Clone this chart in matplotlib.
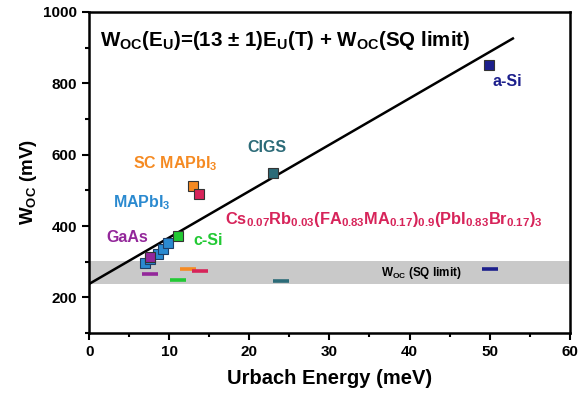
import numpy as np
import matplotlib
matplotlib.use("Agg")
import matplotlib.pyplot as plt
from matplotlib.ticker import MultipleLocator

plt.rcParams['font.family'] = ['Liberation Sans', 'DejaVu Sans']
plt.rcParams['font.weight'] = 'bold'
plt.rcParams['mathtext.fontset'] = 'custom'
plt.rcParams['mathtext.rm'] = 'Liberation Sans:bold'
plt.rcParams['mathtext.it'] = 'Liberation Sans:bold'
plt.rcParams['mathtext.bf'] = 'Liberation Sans:bold'

# -------------------------------
# Data: Urbach energy (meV) vs W_oc (mV)
# -------------------------------
mapbi3_eu = [7.0, 7.6, 8.6, 9.2, 9.9]
mapbi3_woc = [296, 309, 323, 336, 353]

materials = ["GaAs", "c-Si", "SC MAPbI3", "CsRb", "CIGS", "a-Si"]
mat_eu = [7.6, 11.1, 13.0, 13.7, 22.9, 49.9]
mat_woc = [313, 373, 511, 491, 550, 852]
mat_colors = ["#93279a", "#22c934", "#f58a22", "#d7245a", "#2c6b78", "#1c1f8c"]

# SQ-limit W_oc for each material
sq_eu = [7.6, 11.1, 12.4, 13.9, 24.0, 50.0]
sq_woc = [265, 249, 279, 275, 247, 281]

# Fitted relation W_oc = slope * E_U + intercept
slope = 13.0
intercept = 238.0
fit_eu = np.array([0.0, 52.9])

sq_band = (238, 301)

# -------------------------------
# Plot
# -------------------------------
fig = plt.figure(figsize=(5.79, 3.99), dpi=100)
ax = fig.add_axes([0.154, 0.165, 0.830, 0.805])

ax.axhspan(sq_band[0], sq_band[1], color="#c9c9c9", zorder=0, lw=0)

ax.plot(fit_eu, slope * fit_eu + intercept, color="black", lw=1.8, zorder=2)

ax.plot(mapbi3_eu, mapbi3_woc, ls="none", marker="s", ms=7.5,
        mfc="#2b8ad0", mec="#1f3f66", mew=0.8, zorder=3)
for x, y, c in zip(mat_eu, mat_woc, mat_colors):
    ax.plot(x, y, ls="none", marker="s", ms=7.5, mfc=c, mec="#333333",
            mew=0.8, zorder=4)

# SQ-limit dashes
for x, y, c in zip(sq_eu, sq_woc, mat_colors):
    ax.plot(x, y, ls="none", marker="_", ms=12, mew=2.6, color=c, zorder=3)

# Labels
ax.text(1.4, 921, r"W$_{\rm OC}$(E$_{\rm U}$)=(13 ± 1)E$_{\rm U}$(T) + W$_{\rm OC}$(SQ limit)",
        fontsize=14.8, fontweight="bold", va="center", ha="left")
ax.text(52.2, 804, "a-Si", color="#1c1f8c", fontsize=11.5, ha="center", va="center")
ax.text(22.2, 621, "CIGS", color="#2c6b78", fontsize=11.5, ha="center", va="center")
ax.text(10.8, 574, r"SC MAPbI$_3$", color="#f58a22", fontsize=11.5, ha="center", va="center")
ax.text(6.6, 465, r"MAPbI$_3$", color="#2b8ad0", fontsize=11.5, ha="center", va="center")
ax.text(4.7, 369, "GaAs", color="#93279a", fontsize=11.5, ha="center", va="center")
ax.text(14.8, 360, "c-Si", color="#22c934", fontsize=11.5, ha="center", va="center")
ax.text(17.0, 418,
        r"Cs$_{0.07}$Rb$_{0.03}$(FA$_{0.83}$MA$_{0.17}$)$_{0.9}$(PbI$_{0.83}$Br$_{0.17}$)$_3$",
        color="#d7245a", fontsize=11.8, ha="left", va="center")
ax.text(41.5, 268, r"W$_{\rm OC}$ (SQ limit)", fontsize=8.5, ha="center", va="center")

ax.set_xlim(0, 60)
ax.set_ylim(100, 1000)
ax.xaxis.set_major_locator(MultipleLocator(10))
ax.xaxis.set_minor_locator(MultipleLocator(5))
ax.yaxis.set_major_locator(MultipleLocator(200))
ax.yaxis.set_minor_locator(MultipleLocator(100))
ax.tick_params(which="both", direction="out", width=1.5, labelsize=11)
ax.tick_params(which="major", length=5)
ax.tick_params(which="minor", length=3)
for s in ax.spines.values():
    s.set_linewidth(1.8)

ax.set_xlabel("Urbach Energy (meV)", fontsize=14.5, fontweight="bold", labelpad=7)
ax.set_ylabel(r"W$_{\rm OC}$ (mV)", fontsize=13.5, fontweight="bold")
ax.yaxis.set_label_coords(-0.105, 0.47)

fig.savefig("out.png", dpi=100)
